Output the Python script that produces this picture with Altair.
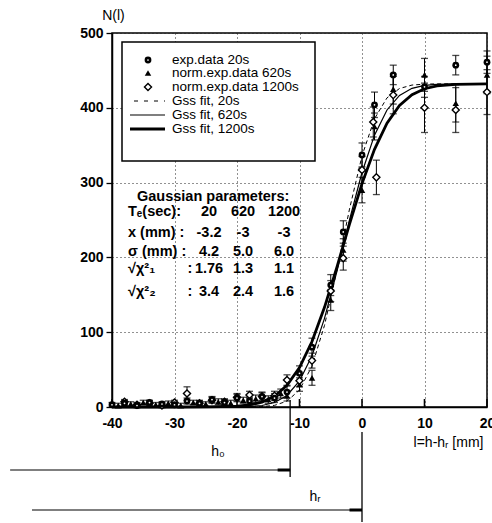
import altair as alt
import pandas as pd

# ---------------- data ----------------
# exp.data 20s
x20 = [-40, -38, -36, -34, -32, -30, -28, -26, -24, -22, -20, -18, -16, -14, -12, -10, -8, -5, -3, 0, 2, 5, 10, 15, 20]
n20 = [3, 5, 2, 6, 4, 3, 8, 5, 10, 6, 12, 8, 14, 12, 20, 45, 80, 163, 234, 337, 404, 444, 428, 457, 461]
e20 = [3, 3, 3, 3, 3, 3, 4, 4, 4, 4, 5, 5, 6, 6, 8, 10, 12, 14, 15, 16, 17, 13, 14, 13, 15]

# norm.exp.data 620s
x620 = [-39, -37, -35, -33, -31, -29, -27, -25, -23, -21, -19, -17, -15, -13, -12, -10, -8, -5, -3, 0, 2, 5, 10, 15, 20]
n620 = [2, 4, 6, 3, 5, 2, 6, 4, 7, 5, 9, 11, 10, 18, 15, 30, 39, 143, 210, 290, 375, 425, 444, 406, 444]
e620 = [3, 3, 3, 3, 3, 3, 3, 3, 4, 4, 4, 5, 5, 6, 7, 9, 10, 14, 15, 17, 18, 20, 22, 25, 25]

# norm.exp.data 1200s
x1200 = [-38, -36, -34, -32, -30, -28, -26, -24, -22, -20, -18, -16, -14, -12, -10, -8, -5, -3, 0, 1.8, 2.3, 5, 10, 15, 20]
n1200 = [7, 3, 5, 2, 6, 18, 5, 9, 7, 13, 16, 14, 15, 36, 35, 62, 155, 199, 317, 381, 307, 417, 400, 397, 421]
e1200 = [3, 3, 3, 3, 3, 9, 3, 4, 4, 5, 5, 5, 6, 7, 8, 10, 14, 16, 18, 20, 23, 25, 33, 30, 30]

# Gaussian (erf) fits
fit_x = [-40, -30, -25, -20, -18, -16, -14, -12, -10, -8, -6, -4, -2, 0, 2, 4, 6, 8, 10, 12, 15, 20]
fit20 = [0, 0, 0, 0, 0.1, 0.5, 2.2, 7.8, 22.8, 54.6, 109.1, 183.4, 264.6, 335.7, 385.4, 413.3, 425.8, 430.4, 431.6, 432, 432, 432]
fit620 = [0, 0, 0, 0.1, 0.6, 2.0, 6.0, 15.5, 34.9, 68.6, 118.5, 181.7, 250.3, 313.5, 363.4, 397.1, 416.5, 426.0, 430.0, 431.4, 431.9, 432]
fit1200 = [0, 0, 0.1, 1.0, 2.7, 6.5, 14.4, 28.9, 52.6, 87.5, 133.3, 187.4, 244.6, 298.7, 344.5, 379.4, 403.1, 417.6, 425.5, 429.3, 431.4, 432]

x_ticks = [-40, -30, -20, -10, 0, 10, 20]
y_ticks = [0, 100, 200, 300, 400, 500]

legend_labels = ["exp.data 20s", "norm.exp.data 620s", "norm.exp.data 1200s",
                 "Gss fit, 20s", "Gss fit, 620s", "Gss fit, 1200s"]

table_title = "Gaussian parameters:"
table_rows = ["T\u2091(sec):", "x (mm) :", "\u03c3 (mm) :", "\u221a\u03c7\u00b2\u2081", "\u221a\u03c7\u00b2\u2082"]
table_col1 = ["20", "-3.2", "4.2", "1.76", "3.4"]
table_col2 = ["620", "-3", "5.0", "1.3", "2.4"]
table_col3 = ["1200", "-3", "6.0", "1.1", "1.6"]

h_labels = ["h\u2080", "h\u1d63"]
h_pos = [-11.5, 0]
h_start = [-56.3, -52.8]

# ---------------- layout ----------------
W, H = 375, 374
FONT = "Liberation Sans"

xscale = alt.Scale(domain=[-40, 20], nice=False, zero=False)
yscale = alt.Scale(domain=[0, 500], nice=False, zero=False)

xaxis = alt.Axis(values=x_ticks, title="l=h-h\u1d63 [mm]", grid=True, gridDash=[1, 3],
                 gridColor="#222", gridWidth=1, ticks=False, tickSize=0, labelPadding=9,
                 labelFontSize=14, labelFontWeight="bold", labelColor="black", labelFont=FONT,
                 labelFlush=False, labelExpr="datum.value + ''", domainColor="black", domainWidth=1.5,
                 titleX=336, titleY=35, titleAlign="center", titleBaseline="middle",
                 titleFontSize=14, titleFontWeight="normal", titleFont=FONT, titleColor="black")
yaxis = alt.Axis(values=y_ticks, title="N(l)", grid=True, gridDash=[1, 3], gridColor="#222",
                 gridWidth=1, ticks=True, tickSize=6, tickColor="black", tickWidth=1.3,
                 labelPadding=3, labelFontSize=14, labelFontWeight="bold", labelColor="black",
                 labelFont=FONT, labelFlush=False, domainColor="black", domainWidth=1.5,
                 titleAngle=0, titleX=1, titleY=-18, titleAlign="center", titleBaseline="middle",
                 titleFontSize=14, titleFontWeight="normal", titleFont=FONT, titleColor="black")


def X(f):
    return alt.X(f, type="quantitative", scale=xscale, axis=xaxis)


def Y(f):
    return alt.Y(f, type="quantitative", scale=yscale, axis=yaxis)


one = pd.DataFrame({"k": [0]})
layers = []

# inward x ticks
layers.append(alt.Chart(pd.DataFrame({"t": x_ticks})).mark_rule(color="black", strokeWidth=1.6)
              .encode(x=X("t"), y=alt.value(H - 8), y2=alt.value(H)))

# fits
fit_df = pd.DataFrame({"x": fit_x, "f20": fit20, "f620": fit620, "f1200": fit1200})
layers.append(alt.Chart(fit_df).mark_line(color="black", strokeWidth=1, strokeDash=[4, 3])
              .encode(x=X("x"), y=Y("f20")))
layers.append(alt.Chart(fit_df).mark_line(color="black", strokeWidth=1.2)
              .encode(x=X("x"), y=Y("f620")))
layers.append(alt.Chart(fit_df).mark_line(color="black", strokeWidth=2.8)
              .encode(x=X("x"), y=Y("f1200")))


def series(xs, ns, es):
    return pd.DataFrame({"x": xs, "n": ns,
                         "lo": [n - e for n, e in zip(ns, es)],
                         "hi": [n + e for n, e in zip(ns, es)]})


for xs, ns, es in [(x20, n20, e20), (x620, n620, e620), (x1200, n1200, e1200)]:
    d = series(xs, ns, es)
    layers.append(alt.Chart(d).mark_rule(color="black", strokeWidth=1)
                  .encode(x=X("x"), y=Y("lo"), y2="hi"))
    layers.append(alt.Chart(d).mark_tick(orient="horizontal", size=7, thickness=1.3, color="black")
                  .encode(x=X("x"), y=Y("lo")))
    layers.append(alt.Chart(d).mark_tick(orient="horizontal", size=7, thickness=1.3, color="black")
                  .encode(x=X("x"), y=Y("hi")))

d20 = series(x20, n20, e20)
d620 = series(x620, n620, e620)
d1200 = series(x1200, n1200, e1200)
layers.append(alt.Chart(d620).mark_point(shape="triangle-up", filled=True, color="black", size=42, opacity=1)
              .encode(x=X("x"), y=Y("n")))
layers.append(alt.Chart(d1200).mark_point(shape="diamond", filled=True, fill="white", stroke="black",
                                          strokeWidth=1.4, size=50, opacity=1)
              .encode(x=X("x"), y=Y("n")))
layers.append(alt.Chart(d20).mark_point(shape="circle", filled=True, color="black", size=46, opacity=1)
              .encode(x=X("x"), y=Y("n")))
layers.append(alt.Chart(d20).mark_point(shape="circle", filled=True, color="white", size=3, opacity=1)
              .encode(x=X("x"), y=Y("n")))

# ---------------- legend box ----------------
layers.append(alt.Chart(one).mark_rect(fill="white", stroke="black", strokeWidth=1.5)
              .encode(x=alt.value(10), x2=alt.value(203), y=alt.value(9), y2=alt.value(128)))
leg_y = [27, 40, 54, 68, 82, 96]
sym_x = 36
layers.append(alt.Chart(one).mark_point(shape="circle", filled=True, color="black", size=46, opacity=1)
              .encode(x=alt.value(sym_x), y=alt.value(leg_y[0])))
layers.append(alt.Chart(one).mark_point(shape="circle", filled=True, color="white", size=3, opacity=1)
              .encode(x=alt.value(sym_x), y=alt.value(leg_y[0])))
layers.append(alt.Chart(one).mark_point(shape="triangle-up", filled=True, color="black", size=42, opacity=1)
              .encode(x=alt.value(sym_x), y=alt.value(leg_y[1])))
layers.append(alt.Chart(one).mark_point(shape="diamond", filled=True, fill="white", stroke="black",
                                        strokeWidth=1.4, size=50, opacity=1)
              .encode(x=alt.value(sym_x), y=alt.value(leg_y[2])))
layers.append(alt.Chart(one).mark_rule(color="black", strokeWidth=1, strokeDash=[4, 6])
              .encode(x=alt.value(22), x2=alt.value(53), y=alt.value(leg_y[3])))
layers.append(alt.Chart(one).mark_rule(color="black", strokeWidth=1.2)
              .encode(x=alt.value(18), x2=alt.value(53), y=alt.value(leg_y[4])))
layers.append(alt.Chart(one).mark_rule(color="black", strokeWidth=2.8)
              .encode(x=alt.value(18), x2=alt.value(53), y=alt.value(leg_y[5])))
for lab, yy in zip(legend_labels, leg_y):
    layers.append(alt.Chart(one).mark_text(text=lab, align="left", baseline="middle", fontSize=13.5,
                                           font=FONT, color="black")
                  .encode(x=alt.value(60), y=alt.value(yy)))

# ---------------- parameter table ----------------
TF = 14.5
layers.append(alt.Chart(one).mark_text(text=table_title, align="left", baseline="middle", fontSize=TF,
                                       fontWeight="bold", font=FONT, color="black")
              .encode(x=alt.value(25), y=alt.value(164)))
row_y = [179, 200, 219, 236, 259]
col_x = [97, 131, 172]
for i, lab in enumerate(table_rows):
    layers.append(alt.Chart(one).mark_text(text=lab, align="left", baseline="middle", fontSize=TF,
                                           fontWeight="bold", font=FONT, color="black")
                  .encode(x=alt.value(16), y=alt.value(row_y[i])))
    if i >= 3:
        layers.append(alt.Chart(one).mark_text(text=":", align="center", baseline="middle", fontSize=TF,
                                               fontWeight="bold", font=FONT, color="black")
                      .encode(x=alt.value(78), y=alt.value(row_y[i])))
    for cx, col in zip(col_x, [table_col1, table_col2, table_col3]):
        layers.append(alt.Chart(one).mark_text(text=col[i], align="center", baseline="middle", fontSize=TF,
                                               fontWeight="bold", font=FONT, color="black")
                      .encode(x=alt.value(cx), y=alt.value(row_y[i])))

# ---------------- h0 / hr markers below the axis ----------------
v_top = [367, 399]
v_bot = [444, 489]
h_line_y = [437, 477]
lab_x = [106, 203]
lab_y = [419, 464]
for i in range(2):
    d = pd.DataFrame({"s": [h_start[i]], "p": [h_pos[i]], "a": [h_pos[i] - 2.0]})
    layers.append(alt.Chart(d).mark_rule(color="black", strokeWidth=1.3)
                  .encode(x=X("p"), y=alt.value(v_top[i]), y2=alt.value(v_bot[i])))
    layers.append(alt.Chart(d).mark_rule(color="black", strokeWidth=1.2)
                  .encode(x=X("s"), x2="p", y=alt.value(h_line_y[i])))
    layers.append(alt.Chart(d).mark_rule(color="black", strokeWidth=3)
                  .encode(x=X("a"), x2="p", y=alt.value(h_line_y[i])))
    layers.append(alt.Chart(one).mark_text(text=h_labels[i], align="center", baseline="middle",
                                           fontSize=14, font=FONT, color="black")
                  .encode(x=alt.value(lab_x[i]), y=alt.value(lab_y[i])))

chart = alt.layer(*layers).properties(
    width=W, height=H,
    autosize=alt.AutoSizeParams(type="none"),
    padding={"left": 112, "top": 33, "right": 5, "bottom": 116},
    background="white",
).configure_view(stroke="black", strokeWidth=1.5)

chart.save("out.html", embed_options={"renderer": "svg", "actions": False})
